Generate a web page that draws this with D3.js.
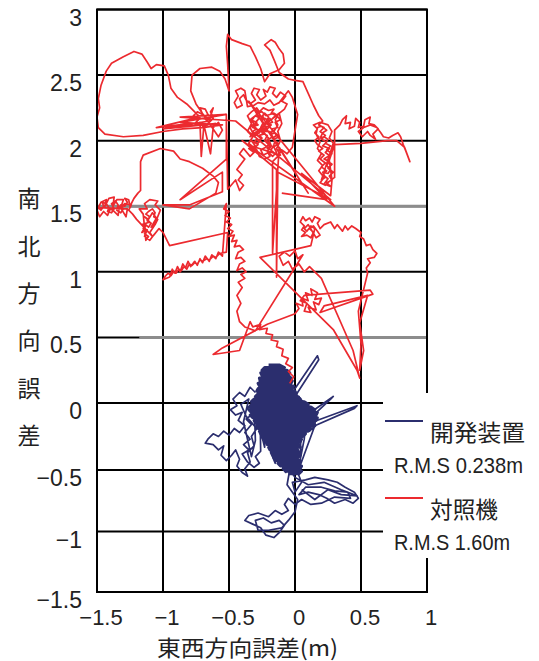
<!DOCTYPE html>
<html><head><meta charset="utf-8">
<script src="https://cdn.jsdelivr.net/npm/d3@7"></script>
<style>body{margin:0;background:#fff}svg{display:block}</style>
</head><body>
<svg id="c" width="539" height="661"></svg>
<script>
// ---------- data ----------
const xTicks = [-1.5, -1, -0.5, 0, 0.5, 1];
const yTicks = [-1.5, -1, -0.5, 0, 0.5, 1, 1.5, 2, 2.5, 3];
const xTitle = "東西方向誤差(m)";
const yTitle = ["南", "北", "方", "向", "誤", "差"];
const seriesNames = ["開発装置", "対照機"];
const seriesRms = ["R.M.S 0.238m", "R.M.S 1.60m"];
const seriesColors = ["#2b2e6e", "#ec2a2f"];
const grayLines = [[1.5, -1.5, 1], [0.5, -1.18, 1]];

// 開発装置 (blue) track pieces
const blueLeftArm = [[-0.30,0.08],[-0.34,0.12],[-0.38,0.05],[-0.42,0.08],[-0.47,0.03],[-0.44,-0.02],[-0.49,-0.05],[-0.45,-0.09],[-0.40,-0.07],[-0.43,-0.13],[-0.38,-0.17],[-0.42,-0.22],[-0.46,-0.19],[-0.50,-0.24],[-0.54,-0.21],[-0.58,-0.25],[-0.62,-0.23],[-0.66,-0.27],[-0.68,-0.30],[-0.62,-0.31],[-0.58,-0.35],[-0.54,-0.32],[-0.56,-0.39],[-0.52,-0.43],[-0.48,-0.39],[-0.45,-0.35],[-0.42,-0.42],[-0.44,-0.47],[-0.40,-0.52],[-0.36,-0.55],[-0.38,-0.49],[-0.34,-0.44],[-0.36,-0.37],[-0.31,-0.32],[-0.33,-0.25],[-0.29,-0.19],[-0.37,-0.10],[-0.41,-0.01],[-0.35,0.03],[-0.39,-0.14],[-0.33,-0.40],[-0.30,-0.28],
  [-0.31,0.02],[-0.36,-0.04],[-0.32,-0.08],[-0.37,-0.12],[-0.33,-0.16],[-0.38,-0.22],[-0.34,-0.27],[-0.39,-0.31],[-0.35,-0.35],[-0.40,-0.38],[-0.36,-0.44],[-0.31,-0.48],[-0.27,-0.45],[-0.30,-0.40],[-0.26,-0.36]];
const blueCore = [[-0.20,0.29],[-0.12,0.29],[-0.08,0.27],[-0.23,0.27],[-0.25,0.25],[-0.06,0.25],[-0.04,0.23],[-0.26,0.23],[-0.25,0.21],[-0.05,0.21],[-0.03,0.19],[-0.27,0.19],[-0.26,0.17],[-0.02,0.17],[-0.03,0.15],[-0.28,0.15],[-0.27,0.13],[-0.01,0.13],[-0.02,0.11],[-0.28,0.11],[-0.29,0.09],[0.00,0.09],[0.01,0.07],[-0.28,0.07],[-0.30,0.05],[0.02,0.05],[0.04,0.03],[-0.31,0.03],[-0.33,0.01],[0.07,0.01],[0.10,-0.01],[-0.32,-0.01],[-0.34,-0.03],[0.12,-0.03],[0.15,-0.05],[-0.35,-0.05],[-0.33,-0.07],[0.17,-0.07],[0.16,-0.09],[-0.34,-0.09],[-0.32,-0.11],[0.17,-0.11],[0.16,-0.13],[-0.31,-0.13],[-0.30,-0.15],[0.14,-0.15],[0.15,-0.17],[-0.29,-0.17],[-0.28,-0.19],[0.12,-0.19],[0.10,-0.21],[-0.27,-0.21],[-0.26,-0.23],[0.08,-0.23],[0.06,-0.25],[-0.25,-0.25],[-0.24,-0.27],[0.05,-0.27],[0.04,-0.29],[-0.22,-0.29],[-0.21,-0.31],[0.03,-0.31],[0.04,-0.33],[-0.20,-0.33],[-0.19,-0.35],[0.02,-0.35],[0.03,-0.37],[-0.18,-0.37],[-0.17,-0.39],[0.04,-0.39],[0.02,-0.41],[-0.16,-0.41],[-0.14,-0.43],[0.04,-0.43],[0.03,-0.45],[-0.13,-0.45],[-0.11,-0.47],[0.05,-0.47],[0.04,-0.49],[-0.09,-0.49],[-0.07,-0.51],[0.05,-0.51],[0.03,-0.53],[-0.05,-0.53]];
const blueCross = [[-0.27,0.18],[-0.25,-0.25],[-0.23,-0.33],[-0.21,0.25],[-0.19,0.28],[-0.17,-0.40],[-0.15,-0.45],[-0.13,0.29],[-0.11,0.28],[-0.09,-0.49],[-0.07,-0.52],[-0.05,0.23],[-0.03,0.15],[-0.01,-0.53],[0.01,-0.51],[0.03,0.05],[0.05,0.01],[0.04,-0.42],[0.07,-0.27],[0.09,-0.02],[0.12,-0.05],[0.11,-0.21],[0.15,-0.17],[0.16,-0.07]];
const blueSpurs = [[-0.02,0.08],[0.17,0.36],[0.18,0.33],[0.00,0.05],[0.09,-0.09],[0.29,0.05],[0.27,0.03],[0.12,-0.11],[0.14,-0.14],[0.47,-0.02],[0.45,-0.04],[0.15,-0.17]];
const blueLower = [[0.02,-0.52],[0.05,-0.60],[0.00,-0.68],[-0.02,-0.60],[0.08,-0.58],[0.15,-0.56],[0.25,-0.58],[0.32,-0.60],[0.38,-0.64],[0.45,-0.68],[0.48,-0.73],[0.44,-0.77],[0.38,-0.74],[0.30,-0.77],[0.24,-0.73],[0.18,-0.70],[0.10,-0.68],[0.03,-0.70],[0.08,-0.64],[0.20,-0.64],[0.30,-0.67],[0.40,-0.68],[0.42,-0.73],[0.30,-0.72],[0.20,-0.77],[0.12,-0.78],[0.05,-0.74],[0.00,-0.78],[-0.05,-0.73],[-0.08,-0.78],[-0.05,-0.83],[-0.10,-0.86],[-0.15,-0.83],[-0.20,-0.88],[-0.28,-0.85],[-0.35,-0.87],[-0.38,-0.91],[-0.32,-0.94],[-0.26,-0.97],[-0.22,-1.03],[-0.16,-1.05],[-0.12,-1.01],[-0.08,-0.95],[-0.12,-0.91],[-0.18,-0.93],[-0.24,-0.89],[-0.30,-0.91],[-0.28,-0.99],[-0.20,-0.99],[-0.10,-0.97],[-0.05,-0.91],[0.00,-0.84],[0.02,-0.74],[-0.06,-0.62],[-0.04,-0.50],
  [0.00,-0.56],[0.10,-0.62],[0.22,-0.60],[0.35,-0.66],[0.47,-0.71],[0.35,-0.70],[0.25,-0.66],[0.15,-0.74],[0.05,-0.66]];

// 対照機 (red) track pieces
const redBottom = [[-0.04,0.15],[-0.01,0.20],[-0.05,0.24],[-0.02,0.27],[-0.07,0.30],[-0.05,0.34],[-0.10,0.36],[-0.09,0.41],[-0.14,0.43],[-0.13,0.47],[-0.18,0.48],[-0.17,0.52],[-0.22,0.53],[-0.21,0.57],[-0.27,0.56],[-0.26,0.60],[-0.32,0.58],[-0.34,0.62],[-0.42,0.40],[-0.62,0.37],[-0.55,0.42],[-0.21,0.60],[0.00,0.68]];
const redLowCenter = [[0.03,0.72],[0.01,0.76],[0.06,0.74],[0.05,0.80],[0.10,0.78],[0.08,0.84],[0.13,0.82],[0.12,0.87],[0.17,0.84],[0.15,0.79],[0.20,0.80],[0.18,0.75],[0.14,0.77],[0.16,0.71],[0.10,0.73],[0.12,0.69],[0.07,0.70],[0.09,0.76],[0.04,0.78],[0.07,0.82],[0.57,0.86],[0.59,0.83],[0.19,0.69],[0.22,0.74],[0.55,0.82],[0.49,0.61],[0.52,0.40],[0.49,0.25],[0.50,0.45],[0.48,0.70],[0.55,0.99]];
const redRightLoop = [[0.54,1.03],[0.57,1.07],[0.55,1.10],[0.60,1.11],[0.62,1.14],[0.59,1.17],[0.57,1.21],[0.54,1.20],[0.52,1.25],[0.49,1.27],[0.50,1.30],[0.46,1.33],[0.43,1.35],[0.40,1.32],[0.38,1.35],[0.36,1.31],[0.32,1.36],[0.30,1.33],[0.27,1.38],[0.22,1.36],
  [0.19,1.33],[0.17,1.37],[0.19,1.40],[0.15,1.42],[0.13,1.38],[0.11,1.41],[0.08,1.39],[0.06,1.42],[0.04,1.38],[0.07,1.35],[0.05,1.32],[0.08,1.30],[0.05,1.27],[0.09,1.28],[0.12,1.26],[0.14,1.30],[0.11,1.33],[0.14,1.35],[0.17,1.31],[0.19,1.28],[0.16,1.26],[0.10,1.36],[0.07,1.33],[0.09,1.31],[0.12,1.35],[0.15,1.33],
  [0.12,1.20],[-0.265,1.11],[0.29,0.56],[0.47,0.25],[0.49,0.19],[0.44,0.40],[0.20,0.95]];
const redMid = [[0.15,1.00],[0.11,1.04],[0.07,1.00],[0.03,1.06],[-0.02,1.02],[-0.05,1.08],[-0.09,1.05],[-0.12,1.12],[-0.08,1.15],[-0.04,1.12],[0.00,1.16],[0.02,1.10],[0.06,1.13],
  [-0.30,0.55],[-0.38,0.58],[-0.42,0.62],[-0.44,0.70],[-0.41,0.76],[-0.44,0.82],[-0.40,0.88],[-0.43,0.92],[-0.38,0.95],[-0.41,0.98],[-0.37,1.00],[-0.40,1.03],[-0.44,1.01],[-0.42,1.06],[-0.38,1.08],[-0.41,1.11],[-0.45,1.10],[-0.43,1.15],[-0.39,1.17],[-0.42,1.20],[-0.46,1.19],[-0.44,1.24],[-0.48,1.23],[-0.46,1.28],[-0.50,1.27],[-0.47,1.31],[-0.51,1.33],[-0.48,1.36],[-0.52,1.38],[-0.49,1.41],[-0.53,1.43],[-0.50,1.46],[-0.54,1.48],[-0.52,1.52]];
const redLeftLow = [[-0.55,1.12],[-0.58,1.15],[-0.60,1.10],[-0.63,1.13],[-0.65,1.08],[-0.68,1.12],[-0.70,1.07],[-0.72,1.10],[-0.74,1.05],[-0.76,1.08],[-0.79,1.04],[-0.81,1.08],[-0.83,1.03],[-0.85,1.06],[-0.87,1.00],[-0.89,1.04],[-0.91,0.99],[-0.93,1.02],[-0.95,0.96],[-1.00,0.94],
  [-0.98,0.97],[-0.96,0.99],[-0.94,0.97],[-0.92,1.00],[-0.90,0.99],[-0.88,1.02],[-0.86,1.01],[-0.84,1.04],[-0.82,1.02],[-0.80,1.06],[-0.78,1.05],[-0.76,1.07],[-0.74,1.06],[-0.72,1.09],[-0.70,1.08],[-0.67,1.10],[-0.65,1.09],[-0.62,1.12],[-0.60,1.11],[-0.57,1.14],
  [-0.52,1.15],[-0.51,1.30],[-0.95,1.20],[-1.00,1.30]];
const redLeftCluster = [[-1.03,1.33],[-1.07,1.28],[-1.10,1.24],[-1.14,1.27],[-1.12,1.32],[-1.16,1.30],[-1.13,1.35],[-1.16,1.36],[-1.10,1.38],[-1.14,1.42],[-1.11,1.40],[-1.08,1.45],[-1.05,1.41],[-1.09,1.34],[-1.06,1.37],[-1.02,1.47],[-1.06,1.51],[-1.04,1.54],[-1.10,1.55],[-1.14,1.52],[-1.12,1.48],[-1.18,1.48],[-1.15,1.44],
  [-1.13,1.24],[-1.11,1.27],[-1.14,1.29],[-1.12,1.31],[-1.15,1.33],[-1.13,1.36],[-1.11,1.34],[-1.09,1.37],[-1.12,1.39],[-1.10,1.42],[-1.13,1.44],[-1.11,1.46],[-1.08,1.48],[-1.06,1.45],[-1.07,1.42],[-1.04,1.40],[-1.06,1.36],[-1.08,1.33],[-1.10,1.30],[-1.08,1.27],
  [-1.20,1.40],[-1.23,1.44],[-1.26,1.47],[-1.24,1.51],[-1.29,1.52],[-1.32,1.49],[-1.30,1.55],[-1.35,1.55],[-1.38,1.50],[-1.37,1.57],[-1.41,1.56],[-1.44,1.50],[-1.43,1.55],[-1.47,1.53],[-1.50,1.47],[-1.48,1.42],[-1.45,1.46],[-1.42,1.43],[-1.40,1.48],[-1.38,1.47],[-1.34,1.43],[-1.33,1.50],[-1.31,1.47],[-1.28,1.42],[-1.27,1.48],
  [-1.49,1.49],[-1.47,1.47],[-1.45,1.50],[-1.46,1.53],[-1.43,1.52],[-1.41,1.49],[-1.42,1.46],[-1.39,1.45],[-1.37,1.48],[-1.39,1.52],[-1.36,1.54],[-1.34,1.51],[-1.35,1.47],[-1.32,1.45],[-1.30,1.48],[-1.32,1.51],[-1.29,1.50],[-1.27,1.53],[-1.29,1.56],[-1.26,1.55],
  [-1.25,1.50],[-1.22,1.56],[-1.19,1.60],[-1.17,1.62],[-1.17,1.84],[-1.15,1.89],[-1.02,1.94],[-0.92,1.92],[-0.87,1.86],[-0.80,1.84],[-0.70,1.79],[-0.62,1.73],[-0.58,1.68],[-0.60,1.60],[-0.80,1.48],[-1.00,1.51],[-0.80,1.51],[-0.55,1.61],[-0.55,1.76],[-0.87,1.55],[-0.52,1.86]];
const redCenter = [[-0.52,2.20],[-0.51,1.63],[-0.45,1.70],[-0.42,1.62],[-0.39,1.66],[-0.43,1.70],[-0.40,1.74],[-0.44,1.78],[-0.41,1.82],[-0.38,1.86],[-0.42,1.90],[-0.39,1.94],
  [-0.34,1.88],[-0.31,1.91],[-0.35,1.94],[-0.30,1.96],[-0.33,2.00],[-0.28,1.98],[-0.26,2.02],[-0.30,2.05],[-0.27,2.08],[-0.32,2.10],[-0.29,2.14],[-0.34,2.16],[-0.30,2.19],[-0.26,2.17],[-0.23,2.21],[-0.20,2.18],[-0.22,2.14],[-0.18,2.12],[-0.21,2.09],[-0.24,2.11],[-0.25,2.06],[-0.21,2.04],[-0.23,2.00],[-0.19,1.98],[-0.22,1.95],[-0.26,1.93],[-0.24,1.89],[-0.20,1.91],[-0.17,1.88],[-0.14,1.91],[-0.16,1.95],[-0.13,1.98],[-0.16,2.01],[-0.12,2.03],[-0.15,2.06],[-0.18,2.05],[-0.17,2.09],[-0.13,2.10],[-0.15,2.14],[-0.11,2.16],[-0.14,2.19],[-0.18,2.21],[-0.16,2.24],[-0.20,2.23],[-0.24,2.25],[-0.27,2.22],[-0.29,2.25],[-0.33,2.22],[-0.36,2.19],[-0.33,2.13],[-0.36,2.07],[-0.32,2.03],[-0.35,1.98],[-0.29,1.93],[-0.27,1.88],[-0.23,1.86],[-0.19,1.88],[-0.21,1.92],[-0.18,1.96],[-0.20,2.01],[-0.17,2.03],[-0.19,2.07],[-0.22,2.07],[-0.26,2.10],[-0.24,2.14],[-0.27,2.17],[-0.23,2.17],[-0.19,2.15],[-0.16,2.18],[-0.12,2.21],[-0.10,2.13],[-0.13,2.07],[-0.11,2.00],[-0.14,1.94],[-0.11,1.89],
  [-0.30,1.95],[-0.28,1.97],[-0.31,1.99],[-0.29,2.01],[-0.27,1.99],[-0.25,2.02],[-0.27,2.04],[-0.24,2.05],[-0.26,2.08],[-0.23,2.09],[-0.21,2.07],[-0.22,2.11],[-0.19,2.10],[-0.20,2.13],[-0.17,2.14],[-0.19,2.17],[-0.21,2.15],[-0.23,2.13],[-0.25,2.15],[-0.24,2.18],[-0.27,2.19],[-0.28,2.16],[-0.30,2.14],[-0.28,2.12],[-0.31,2.11],[-0.29,2.09],[-0.32,2.07],[-0.30,2.04],[-0.27,2.06],[-0.25,2.09],[-0.22,2.04],[-0.20,2.02],[-0.22,1.99],[-0.19,1.96],[-0.21,1.94],[-0.18,1.93],[-0.16,1.97],[-0.15,2.00],[-0.17,2.02],[-0.14,2.04],[-0.16,2.07],[-0.13,2.12],[-0.15,2.16],[-0.13,2.19],[-0.16,2.21],[-0.19,2.20],[-0.22,2.19],[-0.25,2.22],[-0.28,2.21],[-0.31,2.18],[-0.33,2.15],[-0.31,2.13],[-0.34,2.10],[-0.32,2.06],[-0.34,2.03],
  [-0.08,2.24],[-0.06,2.28],[-0.10,2.30],[-0.07,2.34],[-0.11,2.37],[-0.14,2.33],[-0.17,2.36],[-0.15,2.40],[-0.19,2.41],[-0.21,2.37],[-0.24,2.39],[-0.22,2.34],[-0.26,2.31],[-0.29,2.35],[-0.27,2.39],[-0.31,2.40],[-0.33,2.36],[-0.30,2.31],[-0.34,2.28],[-0.37,2.31],[-0.39,2.35],[-0.42,2.32],[-0.40,2.27],[-0.44,2.25],[-0.46,2.29],[-0.43,2.34],[-0.45,2.38],[-0.41,2.40],[-0.38,2.38],[-0.36,2.26],[-0.31,2.27],[-0.28,2.29],[-0.23,2.28],[-0.19,2.31],[-0.16,2.27],[-0.12,2.29],
  [-0.05,2.38],[-0.02,2.33],[0.02,2.20],[-0.02,1.95],[-0.06,1.90],[-0.10,1.93],[-0.13,1.88],[-0.17,1.84],[-0.17,1.14],[-0.12,1.95],[0.10,1.60],[-0.35,2.30],[0.30,1.50],[-0.40,2.00],[-0.14,1.78],[-0.14,0.96],[-0.13,1.76],[0.27,1.55],[-0.45,2.15],[-0.87,2.18],[-0.52,2.20],[-0.87,2.14],[-0.55,2.12]];
const redTopLeft = [[-0.70,2.10],[-0.85,2.09],[-1.00,2.07],[-1.15,2.04],[-1.30,2.03],[-1.44,2.05],[-1.49,2.10],[-1.50,2.18],[-1.48,2.25],[-1.49,2.32],[-1.47,2.42],[-1.43,2.53],[-1.39,2.59],[-1.30,2.64],[-1.22,2.68],[-1.16,2.66],[-1.12,2.60],[-1.09,2.55],[-1.05,2.58],[-0.99,2.57],[-0.96,2.50],[-0.94,2.40],[-0.89,2.33],[-0.82,2.28],[-0.76,2.22],[-0.72,2.18],[-1.05,2.10],[-0.80,2.13],[-1.00,2.09],[-0.60,2.13],[-0.90,2.11],[-0.65,2.15],
  [-0.76,2.13],[-0.73,2.16],[-0.77,2.19],[-0.74,2.22],[-0.70,2.20],[-0.72,2.25],[-0.68,2.24],[-0.66,2.20],[-0.69,2.17],[-0.65,2.14],[-0.62,2.17],[-0.64,2.22],[-0.62,2.25],[-0.66,2.12],[-0.70,2.11],[-0.72,2.14],
  [-0.71,1.88],[-0.69,2.12],[-0.64,1.90],[-0.62,2.10],[-0.58,2.14],[-0.55,2.08],[-0.58,2.03],[-0.75,2.28],[-0.79,2.38],[-0.78,2.50],[-0.72,2.55],[-0.63,2.56],[-0.57,2.53],[-0.53,2.47],[-0.50,2.38]];
const redTop = [[-0.51,2.58],[-0.52,2.72],[-0.51,2.81],[-0.48,2.77],[-0.40,2.74],[-0.34,2.72],[-0.30,2.64],[-0.26,2.55],[-0.23,2.45],[-0.19,2.51],[-0.12,2.54],[-0.08,2.59],[-0.09,2.66],[-0.12,2.70],[-0.15,2.75],[-0.18,2.77],[-0.23,2.73],[-0.19,2.69],[-0.16,2.62],[-0.12,2.52],[-0.05,2.47],[0.00,2.46],[0.06,2.45],[0.10,2.36],[0.14,2.27],[0.18,2.19],[0.21,2.15]];
const redRight = [[0.18,2.12],[0.22,2.10],[0.19,2.07],[0.23,2.04],[0.20,2.01],[0.24,1.99],[0.21,1.96],[0.26,1.94],[0.23,1.91],[0.27,1.88],[0.24,1.85],[0.28,1.82],[0.25,1.79],[0.29,1.76],[0.26,1.73],[0.28,1.70],[0.24,1.68],[0.27,1.65],[0.22,1.67],[0.25,1.71],[0.21,1.74],[0.24,1.77],[0.20,1.80],[0.23,1.83],[0.19,1.86],[0.22,1.89],[0.18,1.92],[0.21,1.94],[0.17,1.97],[0.15,2.00],[0.18,2.03],[0.15,2.06],[0.17,2.09],[0.14,2.12],[0.19,2.14],[0.25,2.12],[0.28,2.07],[0.26,2.02],[0.29,1.98],
  [0.20,1.70],[0.23,1.72],[0.21,1.76],[0.25,1.75],[0.27,1.78],[0.24,1.81],[0.26,1.84],[0.22,1.86],[0.25,1.88],[0.28,1.90],[0.24,1.93],[0.27,1.96],[0.23,1.98],[0.25,2.01],[0.22,2.03],[0.19,2.02],[0.21,2.06],[0.24,2.08],[0.20,2.11],[0.17,2.10],[0.16,2.05],[0.19,1.99],[0.17,1.94],[0.20,1.90],[0.17,1.85],[0.21,1.81],[0.18,1.77],[0.22,1.72],[0.19,1.68],[0.23,1.66],[0.26,1.69],[0.30,1.72],
  [0.30,2.08],[0.34,2.12],[0.36,2.16],[0.39,2.19],[0.38,2.13],[0.42,2.14],[0.41,2.09],[0.45,2.11],[0.46,2.17],[0.49,2.14],[0.48,2.10],[0.52,2.11],[0.53,2.16],[0.57,2.18],[0.56,2.13],[0.60,2.12],[0.63,2.09],[0.59,2.05],[0.61,2.01],[0.57,2.04],[0.55,2.07],[0.51,2.03],[0.48,2.07],[0.52,2.10],[0.57,2.12],[0.62,2.10],[0.65,2.06],[0.67,2.03],[0.71,2.02],[0.74,2.04],[0.78,2.06],[0.80,2.03],[0.82,1.97],[0.84,1.92],[0.87,1.84],[0.83,1.95],[0.77,2.00],[0.70,2.00],[0.50,1.98],[0.30,1.97],[0.26,1.85],[0.28,1.70],[0.27,1.58],[0.05,1.75],[0.24,1.55],[-0.10,1.60]];

const blueTrack = [].concat(blueLeftArm, blueCross, blueSpurs, blueLower);
const redTrack = [].concat(redBottom, redLowCenter, redRightLoop, redMid, redLeftLow, redLeftCluster, redCenter, redTopLeft, redTop, redRight);

// ---------- drawing ----------
const svg = d3.select("#c");
svg.append("rect").attr("width",539).attr("height",661).attr("fill","#fff");

const x = d3.scaleLinear().domain([-1.5, 1]).range([97, 427]);
const y = d3.scaleLinear().domain([-1.5, -1, -0.5, 0, 3]).range([592, 531.5, 470, 403, 9.5]);
const fmt = v => (v < 0 ? "\u2212" : "") + Math.abs(v);

const grid = svg.append("g");
grid.selectAll("line.v").data(xTicks).join("line")
  .attr("x1", d => x(d)).attr("x2", d => x(d)).attr("y1", y(3)).attr("y2", y(-1.5))
  .attr("stroke", "#000").attr("stroke-width", 2);
grid.selectAll("line.h").data(yTicks).join("line")
  .attr("x1", x(-1.5)).attr("x2", x(1)).attr("y1", d => y(d)).attr("y2", d => y(d))
  .attr("stroke", "#000").attr("stroke-width", 2);
grid.selectAll("line.g").data(grayLines).join("line")
  .attr("x1", d => x(d[1])).attr("x2", d => x(d[2])).attr("y1", d => y(d[0])).attr("y2", d => y(d[0]))
  .attr("stroke", "#8c8c8c").attr("stroke-width", 3);

svg.append("clipPath").attr("id","clip").append("rect")
  .attr("x", x(-1.5)-2).attr("y", y(3)-2).attr("width", x(1)-x(-1.5)+4).attr("height", y(-1.5)-y(3)+4);

const line = d3.line().x(d => x(d[0])).y(d => y(d[1]));
const tracks = svg.append("g").attr("clip-path","url(#clip)");
tracks.append("path").datum(blueTrack).attr("d", line)
  .attr("fill","none").attr("stroke", seriesColors[0]).attr("stroke-width", 1.7).attr("stroke-linejoin","round");
tracks.append("path").datum(blueCore).attr("d", line)
  .attr("fill","none").attr("stroke", seriesColors[0]).attr("stroke-width", 3).attr("stroke-linejoin","round");
tracks.append("path").datum(redTrack).attr("d", line)
  .attr("fill","none").attr("stroke", seriesColors[1]).attr("stroke-width", 1.7).attr("stroke-linejoin","round");

// tick labels
svg.append("g").selectAll("text").data(yTicks).join("text")
  .attr("x", 82).attr("y", d => y(d) + 8).attr("dy", "0.35em")
  .attr("text-anchor", "end").attr("font-family", "Liberation Sans, Arial, sans-serif")
  .attr("font-size", 23).attr("fill", "#222").text(fmt);
svg.append("g").selectAll("text").data(xTicks).join("text")
  .attr("x", d => x(d) + 4).attr("y", 625)
  .attr("text-anchor", "middle").attr("font-family", "Liberation Sans, Arial, sans-serif")
  .attr("font-size", 22).attr("fill", "#222").text(fmt);

// axis titles
svg.append("text").attr("x", 157).attr("y", 656)
  .attr("font-family", "Noto Sans CJK JP, sans-serif").attr("font-size", 22).attr("fill", "#222")
  .attr("textLength", 181).attr("lengthAdjust", "spacingAndGlyphs").text(xTitle);
svg.append("g").selectAll("text").data(yTitle).join("text")
  .attr("x", 29).attr("y", (d, i) => 199 + i * 47.4).attr("dy", "0.36em")
  .attr("text-anchor", "middle").attr("font-family", "Noto Sans CJK JP, sans-serif")
  .attr("font-size", 23).attr("fill", "#222").text(d => d);

// frame
svg.append("rect").attr("x", x(-1.5)).attr("y", y(3)).attr("width", x(1) - x(-1.5)).attr("height", y(-1.5) - y(3))
  .attr("fill", "none").attr("stroke", "#000").attr("stroke-width", 2);

// legend
const lg = svg.append("g");
lg.append("rect").attr("x", 383).attr("y", 393).attr("width", 156).attr("height", 165).attr("fill", "#fff");
const items = lg.selectAll("g").data(seriesNames).join("g")
  .attr("transform", (d, i) => `translate(0,${i * 77})`);
items.append("line").attr("x1", 385).attr("x2", 423).attr("y1", 421).attr("y2", 421)
  .attr("stroke", (d, i) => seriesColors[i]).attr("stroke-width", 2);
items.append("text").attr("x", 430).attr("y", 441)
  .attr("font-family", "Noto Sans CJK JP, sans-serif").attr("font-size", 23).attr("fill", "#222")
  .attr("textLength", (d, i) => i === 0 ? 95 : 68).attr("lengthAdjust", "spacingAndGlyphs").text(d => d);
items.append("text").attr("x", 394).attr("y", 473)
  .attr("font-family", "Liberation Sans, Arial, sans-serif").attr("font-size", 22).attr("fill", "#222")
  .attr("textLength", (d, i) => i === 0 ? 129 : 116).attr("lengthAdjust", "spacingAndGlyphs")
  .text((d, i) => seriesRms[i]);
</script>
</body></html>
